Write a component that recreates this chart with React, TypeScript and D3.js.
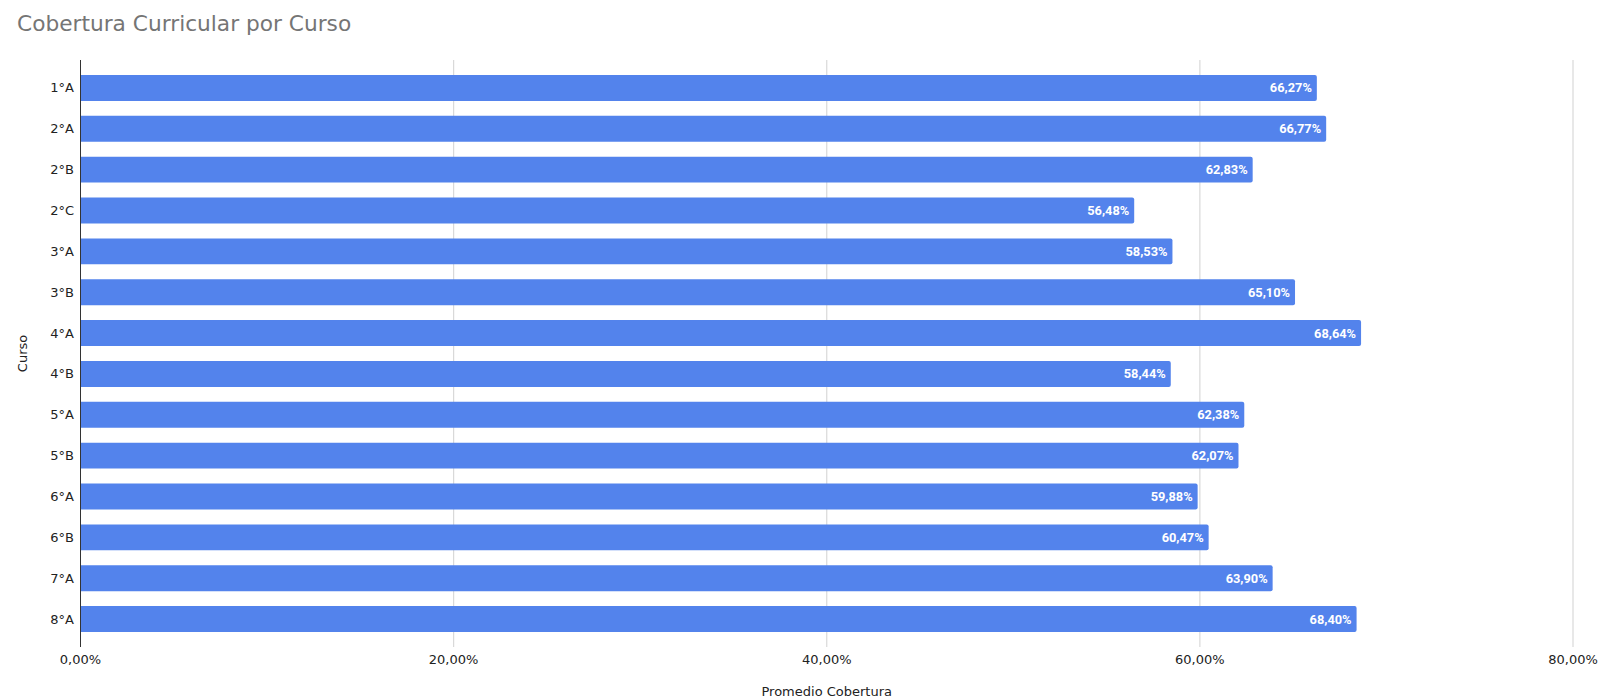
import React from "react";
import * as d3 from "d3";

const categories = ["1°A", "2°A", "2°B", "2°C", "3°A", "3°B", "4°A", "4°B", "5°A", "5°B", "6°A", "6°B", "7°A", "8°A"];
const values = [66.27, 66.77, 62.83, 56.48, 58.53, 65.1, 68.64, 58.44, 62.38, 62.07, 59.88, 60.47, 63.9, 68.4];
const xTicks = [0, 20, 40, 60, 80];
const title = "Cobertura Curricular por Curso";
const xTitle = "Promedio Cobertura";
const yTitle = "Curso";

const W = 1600;
const H = 699;
const fmt = (v: number) => v.toFixed(2).replace(".", ",") + "%";

export default function App() {
  const x = d3.scaleLinear().domain([0, 80]).range([80.5, 1573]);
  const y = d3.scaleBand<string>().domain(categories).range([60, 647]).paddingInner(0.365).paddingOuter(0.366);
  const font = "'DejaVu Sans', Verdana, sans-serif";
  return (
    <svg width={W} height={H} style={{ position: "absolute", left: 0, top: 0, background: "#fff" }}>
      <text x={17} y={31} fontFamily={font} fontSize={21.7} fill="#757575">{title}</text>
      {xTicks.map((t) => (
        <g key={t}>
          {t !== 0 && <line x1={x(t)} x2={x(t)} y1={60} y2={647} stroke="#d9d9d9" strokeWidth={1.2} />}
          <text x={x(t)} y={664} textAnchor="middle" fontFamily={font} fontSize={13} fill="#222">{fmt(t)}</text>
        </g>
      ))}
      {categories.map((c, i) => {
        const y0 = y(c)!;
        const bw = y.bandwidth();
        const x1 = x(values[i]);
        const x0 = x(0);
        const r = 2;
        const path = `M${x0},${y0}H${x1 - r}Q${x1},${y0} ${x1},${y0 + r}V${y0 + bw - r}Q${x1},${y0 + bw} ${x1 - r},${y0 + bw}H${x0}Z`;
        return (
          <g key={c}>
            <path d={path} fill="#5383ec" />
            <text x={x1 - 5} y={y0 + bw / 2} dy="0.35em" textAnchor="end" fontFamily="Roboto, sans-serif" fontWeight="bold" fontSize={12.8} fill="#fff">{fmt(values[i])}</text>
            <text x={74} y={y0 + bw / 2} dy="0.35em" textAnchor="end" fontFamily={font} fontSize={13} fill="#222">{c}</text>
          </g>
        );
      })}
      <line x1={x(0)} x2={x(0)} y1={60} y2={647} stroke="#333" strokeWidth={1} />
      <text x={(x(0) + x(80)) / 2} y={696} textAnchor="middle" fontFamily={font} fontSize={13} fill="#222">{xTitle}</text>
      <text transform={`translate(27,${(60 + 647) / 2}) rotate(-90)`} textAnchor="middle" fontFamily={font} fontSize={13} fill="#222">{yTitle}</text>
    </svg>
  );
}
